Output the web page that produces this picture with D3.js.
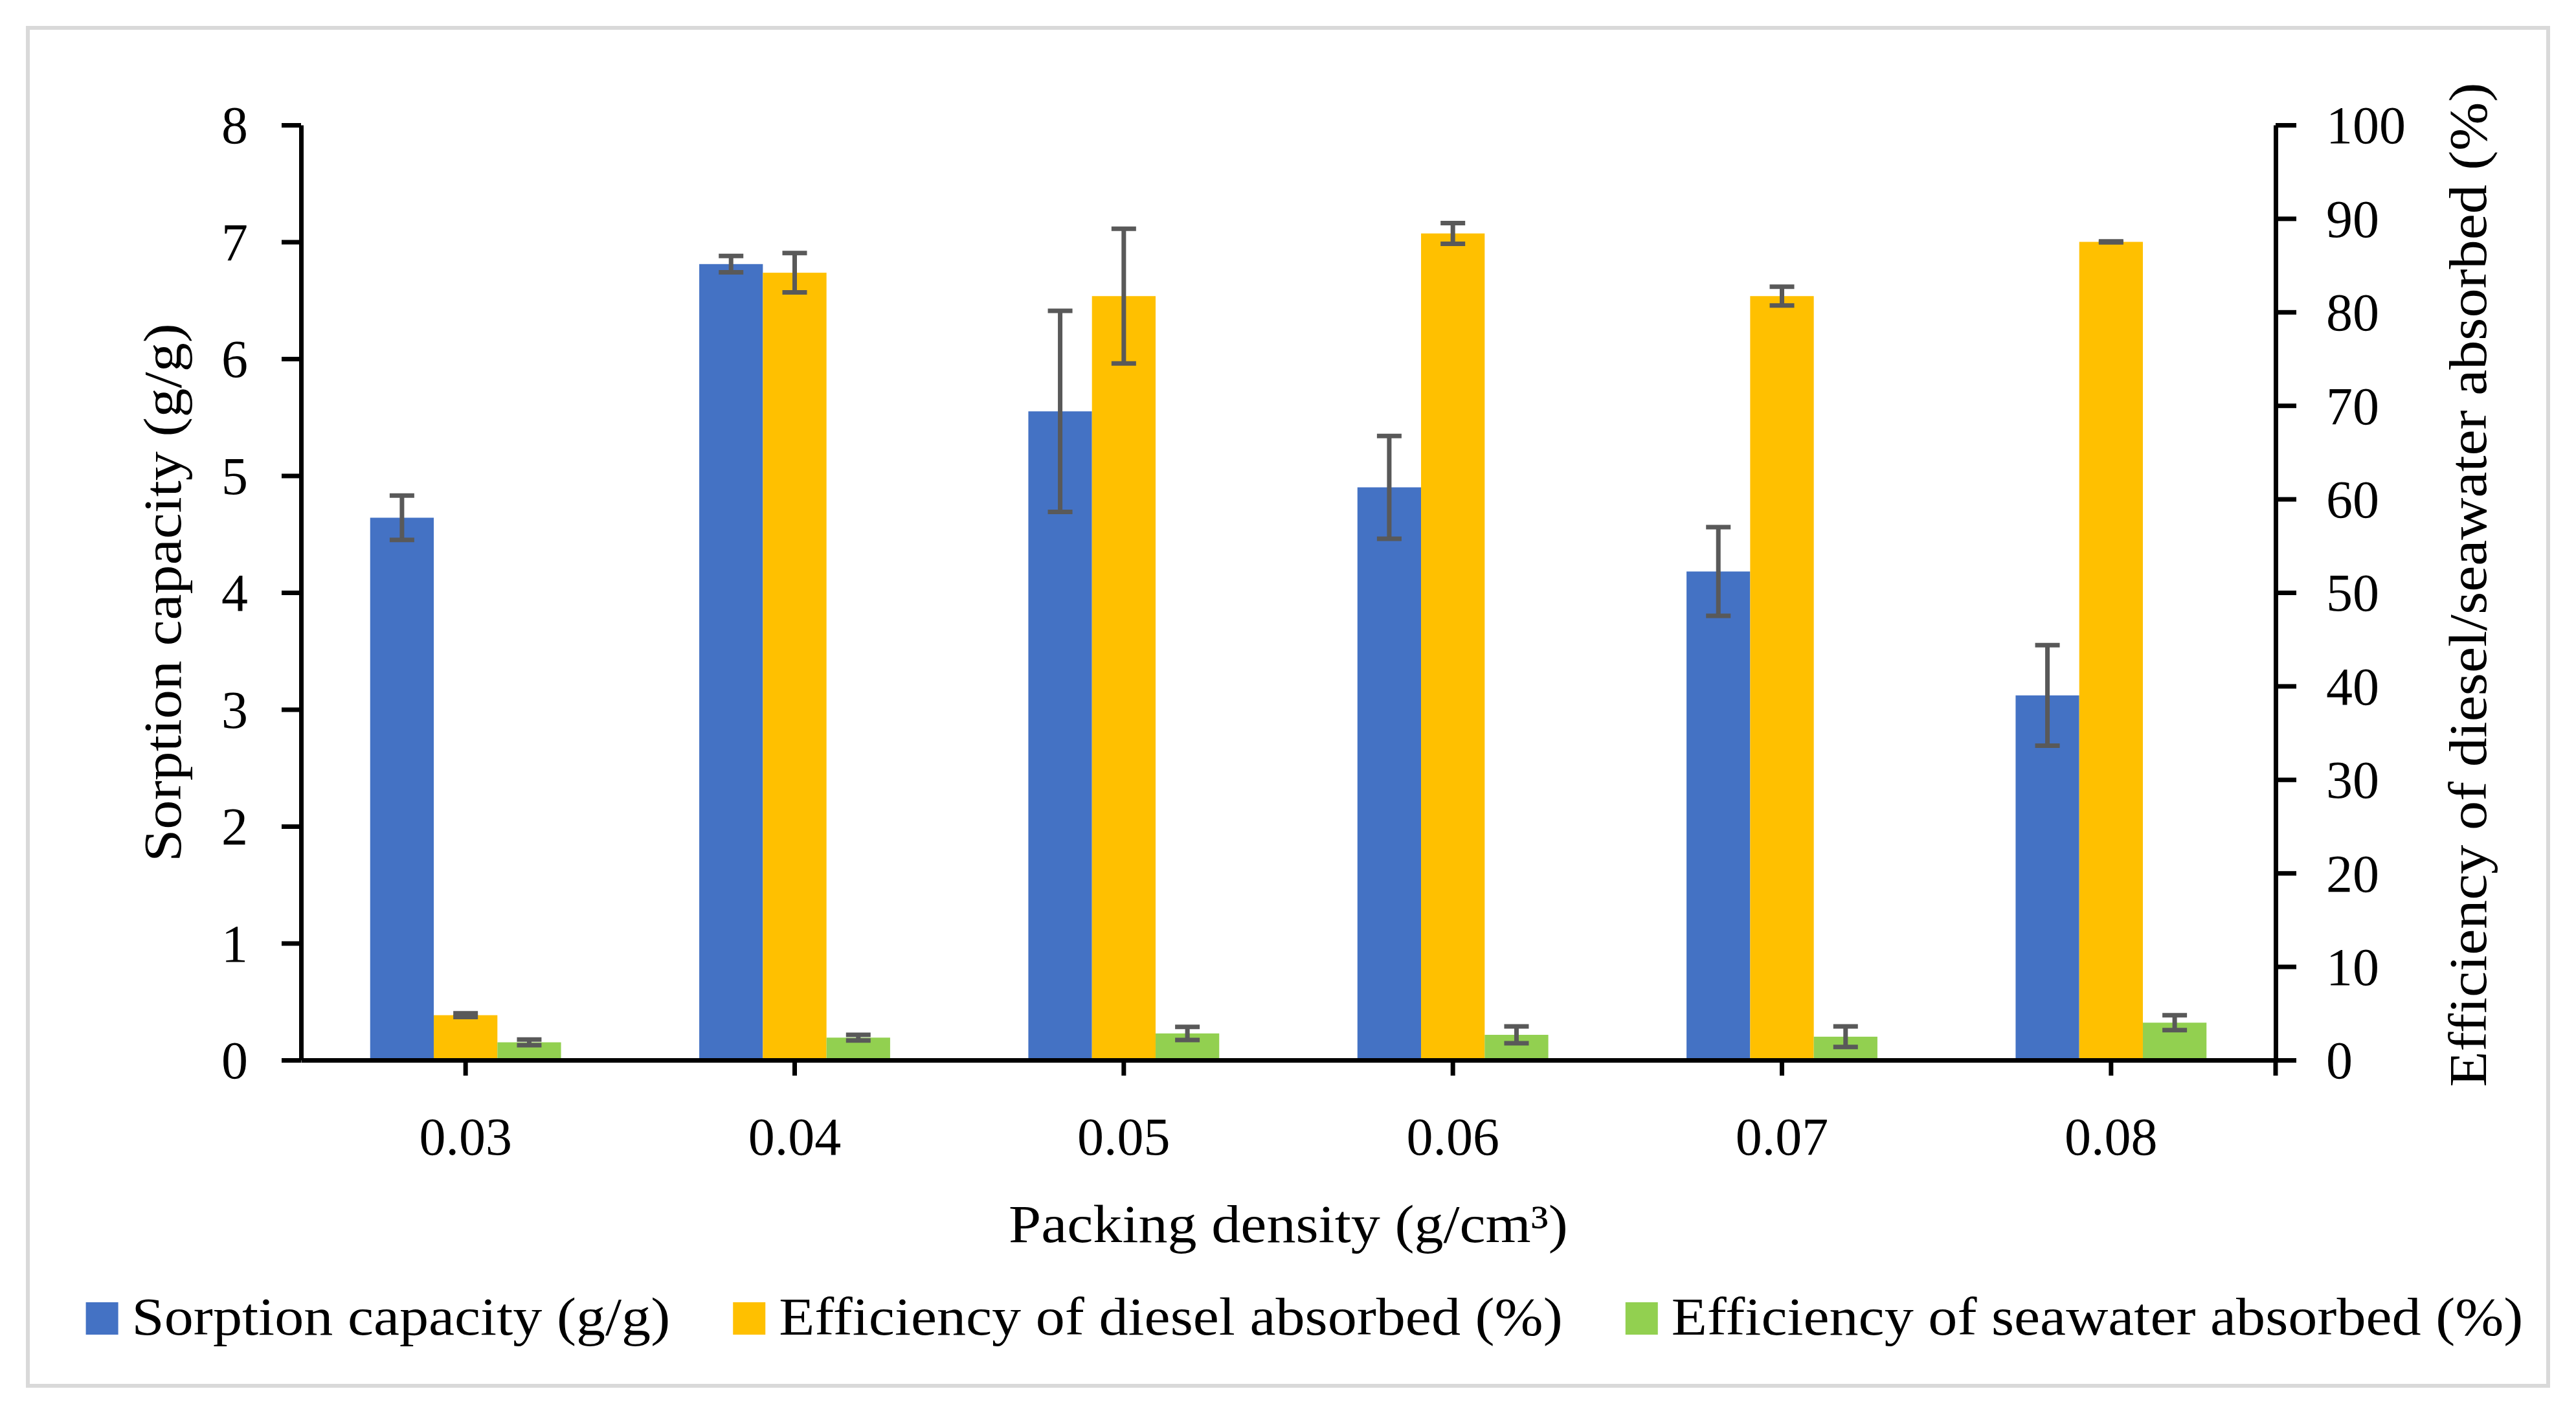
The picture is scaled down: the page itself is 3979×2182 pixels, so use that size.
<!DOCTYPE html>
<html>
<head>
<meta charset="utf-8">
<script src="https://cdn.jsdelivr.net/npm/d3@7"></script>
<style>
  body { margin: 0; background: #fff; }
  text { font-family: "Palatino Linotype", "Book Antiqua", Palatino, "Liberation Serif", serif; }
</style>
</head>
<body>
<div id="chart"></div>
<script>
// data
const categories = ["0.03", "0.04", "0.05", "0.06", "0.07", "0.08"];
const sorption = [4.64, 6.81, 5.55, 4.90, 4.18, 3.12];        // g/g, left axis
const sorptionErr = [0.19, 0.07, 0.86, 0.44, 0.38, 0.43];
const diesel = [4.8, 84.2, 81.7, 88.4, 81.7, 87.5];           // %, right axis
const dieselErr = [0.2, 2.1, 7.2, 1.1, 1.0, 0.05];
const seawater = [1.9, 2.4, 2.85, 2.7, 2.5, 4.0];             // %, right axis
const seawaterErr = [0.3, 0.3, 0.7, 0.9, 1.1, 0.8];
const leftTicks = [0, 1, 2, 3, 4, 5, 6, 7, 8];
const rightTicks = [0, 10, 20, 30, 40, 50, 60, 70, 80, 90, 100];
const seriesNames = ["Sorption capacity (g/g)", "Efficiency of diesel absorbed (%)", "Efficiency of seawater absorbed (%)"];
const seriesColors = ["#4472C4", "#FFC000", "#92D050"];

const W = 3979, H = 2182;
const margin = {top: 193, right: 464, bottom: 545, left: 465};
const visWidth = W - margin.left - margin.right;
const visHeight = H - margin.top - margin.bottom;
const fontSize = 82;
const textStretch = 1.1;   // Palatino is wider than the fallback serif

const svg = d3.select("#chart").append("svg")
    .attr("width", W)
    .attr("height", H);

// outer frame
svg.append("rect")
    .attr("x", 43).attr("y", 43)
    .attr("width", W - 86).attr("height", H - 85)
    .attr("fill", "#fff")
    .attr("stroke", "#D9D9D9")
    .attr("stroke-width", 6);

const g = svg.append("g")
    .attr("transform", `translate(${margin.left},${margin.top})`);

const x0 = d3.scaleBand()
    .domain(categories)
    .range([0, visWidth])
    .padding(0);

const x1 = d3.scaleBand()
    .domain(seriesNames)
    .range([x0.bandwidth() * 0.21, x0.bandwidth() * 0.79])
    .padding(0);

const yL = d3.scaleLinear().domain([0, 8]).range([visHeight, 0]);
const yR = d3.scaleLinear().domain([0, 100]).range([visHeight, 0]);

// widen the fallback font a bit, returns the new length
function stretch(sel) {
  let len = 0;
  sel.each(function() {
    len = this.getComputedTextLength() * textStretch;
    d3.select(this).attr("textLength", len).attr("lengthAdjust", "spacingAndGlyphs");
  });
  return len;
}

// bars
const series = [
  {name: seriesNames[0], vals: sorption, errs: sorptionErr, y: yL},
  {name: seriesNames[1], vals: diesel, errs: dieselErr, y: yR},
  {name: seriesNames[2], vals: seawater, errs: seawaterErr, y: yR}
];

series.forEach(function(s, si) {
  const rows = categories.map((c, i) => ({cat: c, v: s.vals[i], e: s.errs[i]}));
  const sg = g.append("g").attr("fill", seriesColors[si]);
  sg.selectAll("rect")
    .data(rows)
    .enter().append("rect")
      .attr("x", d => x0(d.cat) + x1(s.name))
      .attr("y", d => s.y(d.v))
      .attr("width", x1.bandwidth())
      .attr("height", d => visHeight - s.y(d.v));
});

// error bars drawn on top
series.forEach(function(s) {
  const rows = categories.map((c, i) => ({cat: c, v: s.vals[i], e: s.errs[i]}));
  const eg = g.append("g")
      .attr("stroke", "#595959")
      .attr("stroke-width", 7);
  const cx = d => x0(d.cat) + x1(s.name) + x1.bandwidth() / 2;
  eg.selectAll(".stem").data(rows).enter().append("line")
      .attr("x1", cx).attr("x2", cx)
      .attr("y1", d => s.y(d.v + d.e))
      .attr("y2", d => s.y(d.v - d.e));
  eg.selectAll(".capTop").data(rows).enter().append("line")
      .attr("x1", d => cx(d) - 19).attr("x2", d => cx(d) + 19)
      .attr("y1", d => s.y(d.v + d.e)).attr("y2", d => s.y(d.v + d.e));
  eg.selectAll(".capBot").data(rows).enter().append("line")
      .attr("x1", d => cx(d) - 19).attr("x2", d => cx(d) + 19)
      .attr("y1", d => s.y(d.v - d.e)).attr("y2", d => s.y(d.v - d.e));
});

// axes
function styleAxis(ax) {
  ax.select(".domain").attr("stroke", "#000").attr("stroke-width", 7);
  ax.selectAll(".tick line").attr("stroke", "#000").attr("stroke-width", 7);
  ax.selectAll(".tick text")
    .attr("fill", "#000")
    .attr("font-size", fontSize)
    .attr("font-family", null);
}

const axL = g.append("g")
    .call(d3.axisLeft(yL).tickValues(leftTicks).tickSize(30).tickSizeOuter(0).tickPadding(52));
styleAxis(axL);
axL.selectAll(".tick text").attr("dy", "0.34em");

const axR = g.append("g")
    .attr("transform", `translate(${visWidth},0)`)
    .call(d3.axisRight(yR).tickValues(rightTicks).tickSize(32).tickSizeOuter(0).tickPadding(46));
styleAxis(axR);
axR.selectAll(".tick text").attr("dy", "0.34em");

const axB = g.append("g")
    .attr("transform", `translate(0,${visHeight})`)
    .call(d3.axisBottom(x0).tickSize(24).tickSizeOuter(0).tickPadding(64));
styleAxis(axB);
axB.selectAll(".tick text").attr("dy", "0.71em");
// the category axis also ends with a short tick at its right end
axB.append("line")
    .attr("x1", visWidth).attr("x2", visWidth)
    .attr("y1", 0).attr("y2", 24)
    .attr("stroke", "#000").attr("stroke-width", 7);

// axis titles
const xTitle = svg.append("text")
    .attr("x", margin.left + visWidth / 2)
    .attr("y", 1918)
    .attr("text-anchor", "middle")
    .attr("font-size", fontSize)
    .text("Packing density (g/cm³)");
stretch(xTitle);

const yTitleL = svg.append("text")
    .attr("transform", `translate(279,${margin.top + visHeight / 2}) rotate(-90)`)
    .attr("text-anchor", "middle")
    .attr("font-size", fontSize)
    .text("Sorption capacity (g/g)");
stretch(yTitleL);

const yTitleR = svg.append("text")
    .attr("transform", `translate(3840,${margin.top + visHeight / 2 - 12}) rotate(-90)`)
    .attr("text-anchor", "middle")
    .attr("font-size", fontSize)
    .text("Efficiency of diesel/seawater absorbed (%)");
stretch(yTitleR);

// legend
const legend = svg.append("g");
let lx = 0;
seriesNames.forEach(function(name, i) {
  const item = legend.append("g").attr("transform", `translate(${lx},0)`);
  item.append("rect")
      .attr("x", 0).attr("y", -50)
      .attr("width", 50).attr("height", 50)
      .attr("fill", seriesColors[i]);
  const t = item.append("text")
      .attr("x", 71).attr("y", 0)
      .attr("font-size", fontSize)
      .text(name);
  const len = stretch(t);
  lx += 71 + len + 97;
});
const legendWidth = lx - 97;
legend.attr("transform", `translate(${2015 - legendWidth / 2},2061)`);
</script>
</body>
</html>
